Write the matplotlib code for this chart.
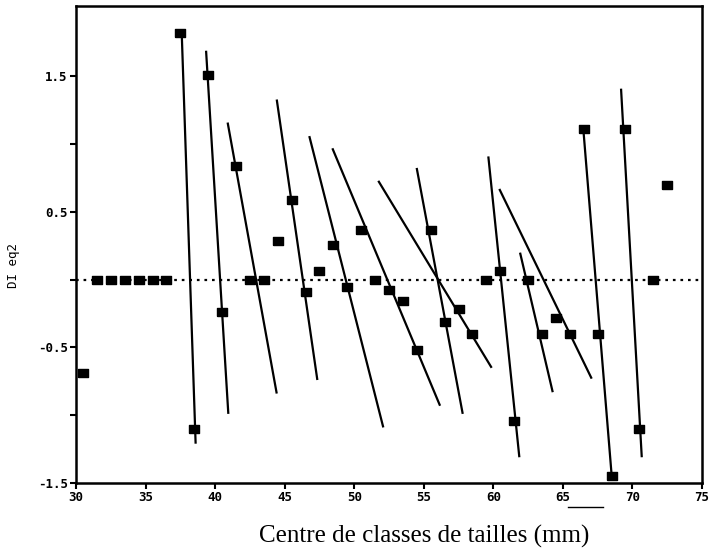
import matplotlib
matplotlib.use("Agg")
import matplotlib.pyplot as plt
from matplotlib.lines import Line2D

# Size-class centres (mm) and the plotted index
class_centres = [30.5, 31.5, 32.5, 33.5, 34.5, 35.5, 36.5, 37.5, 38.5, 39.5,
                 40.5, 41.5, 42.5, 43.5, 44.5, 45.5, 46.5, 47.5, 48.5, 49.5,
                 50.5, 51.5, 52.5, 53.5, 54.5, 55.5, 56.5, 57.5, 58.5, 59.5,
                 60.5, 61.5, 62.5, 63.5, 64.5, 65.5, 66.5, 67.5, 68.5, 69.5,
                 70.5, 71.5, 72.5]
dl_eq2 = [-0.69, 0.0, 0.0, 0.0, 0.0, 0.0, 0.0, 1.82, -1.10, 1.51,
          -0.24, 0.84, 0.0, 0.0, 0.285, 0.585, -0.094, 0.065, 0.26, -0.057,
          0.366, 0.0, -0.077, -0.156, -0.52, 0.366, -0.315, -0.217, -0.40, 0.0,
          0.065, -1.04, 0.0, -0.40, -0.28, -0.40, 1.11, -0.40, -1.45, 1.11,
          -1.10, 0.0, 0.70]

# Fitted cohort segments: start and end points
seg_x0 = [37.6, 39.35, 40.9, 44.43, 46.77, 48.43, 51.73, 54.49, 59.64, 60.43, 61.92, 66.47, 69.18]
seg_y0 = [1.82, 1.69, 1.16, 1.33, 1.06, 0.97, 0.73, 0.825, 0.91, 0.67, 0.20, 1.11, 1.41]
seg_x1 = [38.6, 40.95, 44.43, 47.35, 52.09, 56.17, 59.88, 57.8, 61.87, 67.07, 64.27, 68.51, 70.67]
seg_y1 = [-1.21, -0.99, -0.84, -0.74, -1.09, -0.93, -0.65, -0.99, -1.31, -0.73, -0.83, -1.45, -1.31]

x_ticks = [30, 35, 40, 45, 50, 55, 60, 65, 70, 75]
x_ticklabels = ["30", "35", "40", "45", "50", "55", "60", "65", "70", "75"]
y_ticks = [-1.5, -1.0, -0.5, 0.0, 0.5, 1.0, 1.5]
y_ticklabels = ["-1.5", "", "-0.5", "", "0.5", "", "1.5"]

fig = plt.figure(figsize=(7.10, 5.56), dpi=100)
ax = fig.add_axes([76 / 710, 1 - 483 / 556, 626 / 710, 477 / 556])
ax.set_xlim(30, 75)
ax.set_ylim(-1.5, 2.02)

# zero reference line
ax.axhline(0, color="black", lw=1.6, ls=(0, (1.2, 2.2)), zorder=1)

for x0, y0, x1, y1 in zip(seg_x0, seg_y0, seg_x1, seg_y1):
    ax.plot([x0, x1], [y0, y1], color="black", lw=1.6, solid_capstyle="butt", zorder=2)

rect = [(-1, -0.68), (1, -0.68), (1, 0.68), (-1, 0.68), (-1, -0.68)]
ax.plot(class_centres, dl_eq2, ls="none", marker=rect, markersize=7.5,
        color="black", zorder=3)

for side in ["left", "bottom", "top", "right"]:
    ax.spines[side].set_linewidth(1.8)

mono = dict(family="DejaVu Sans Mono", weight="bold", size=9)
ax.set_xticks(x_ticks)
ax.set_xticklabels(x_ticklabels, fontdict=mono)
ax.set_yticks(y_ticks)
ax.set_yticklabels(y_ticklabels, fontdict=mono)
ax.tick_params(axis="both", direction="out", length=4, width=1.5, pad=2)

fig.text(14 / 710, 1 - 266 / 556, "DI eq2", family="DejaVu Sans Mono", size=9,
         rotation=90, ha="center", va="center")
fig.text(424 / 710, 1 - 536 / 556, "Centre de classes de tailles (mm)",
         family="Liberation Serif", size=18, ha="center", va="center")

# stray underline beneath the axis labels
fig.add_artist(Line2D([568 / 710, 603 / 710], [1 - 507 / 556, 1 - 507 / 556],
                      color="black", lw=1.0))

fig.savefig("out.png", dpi=100)
